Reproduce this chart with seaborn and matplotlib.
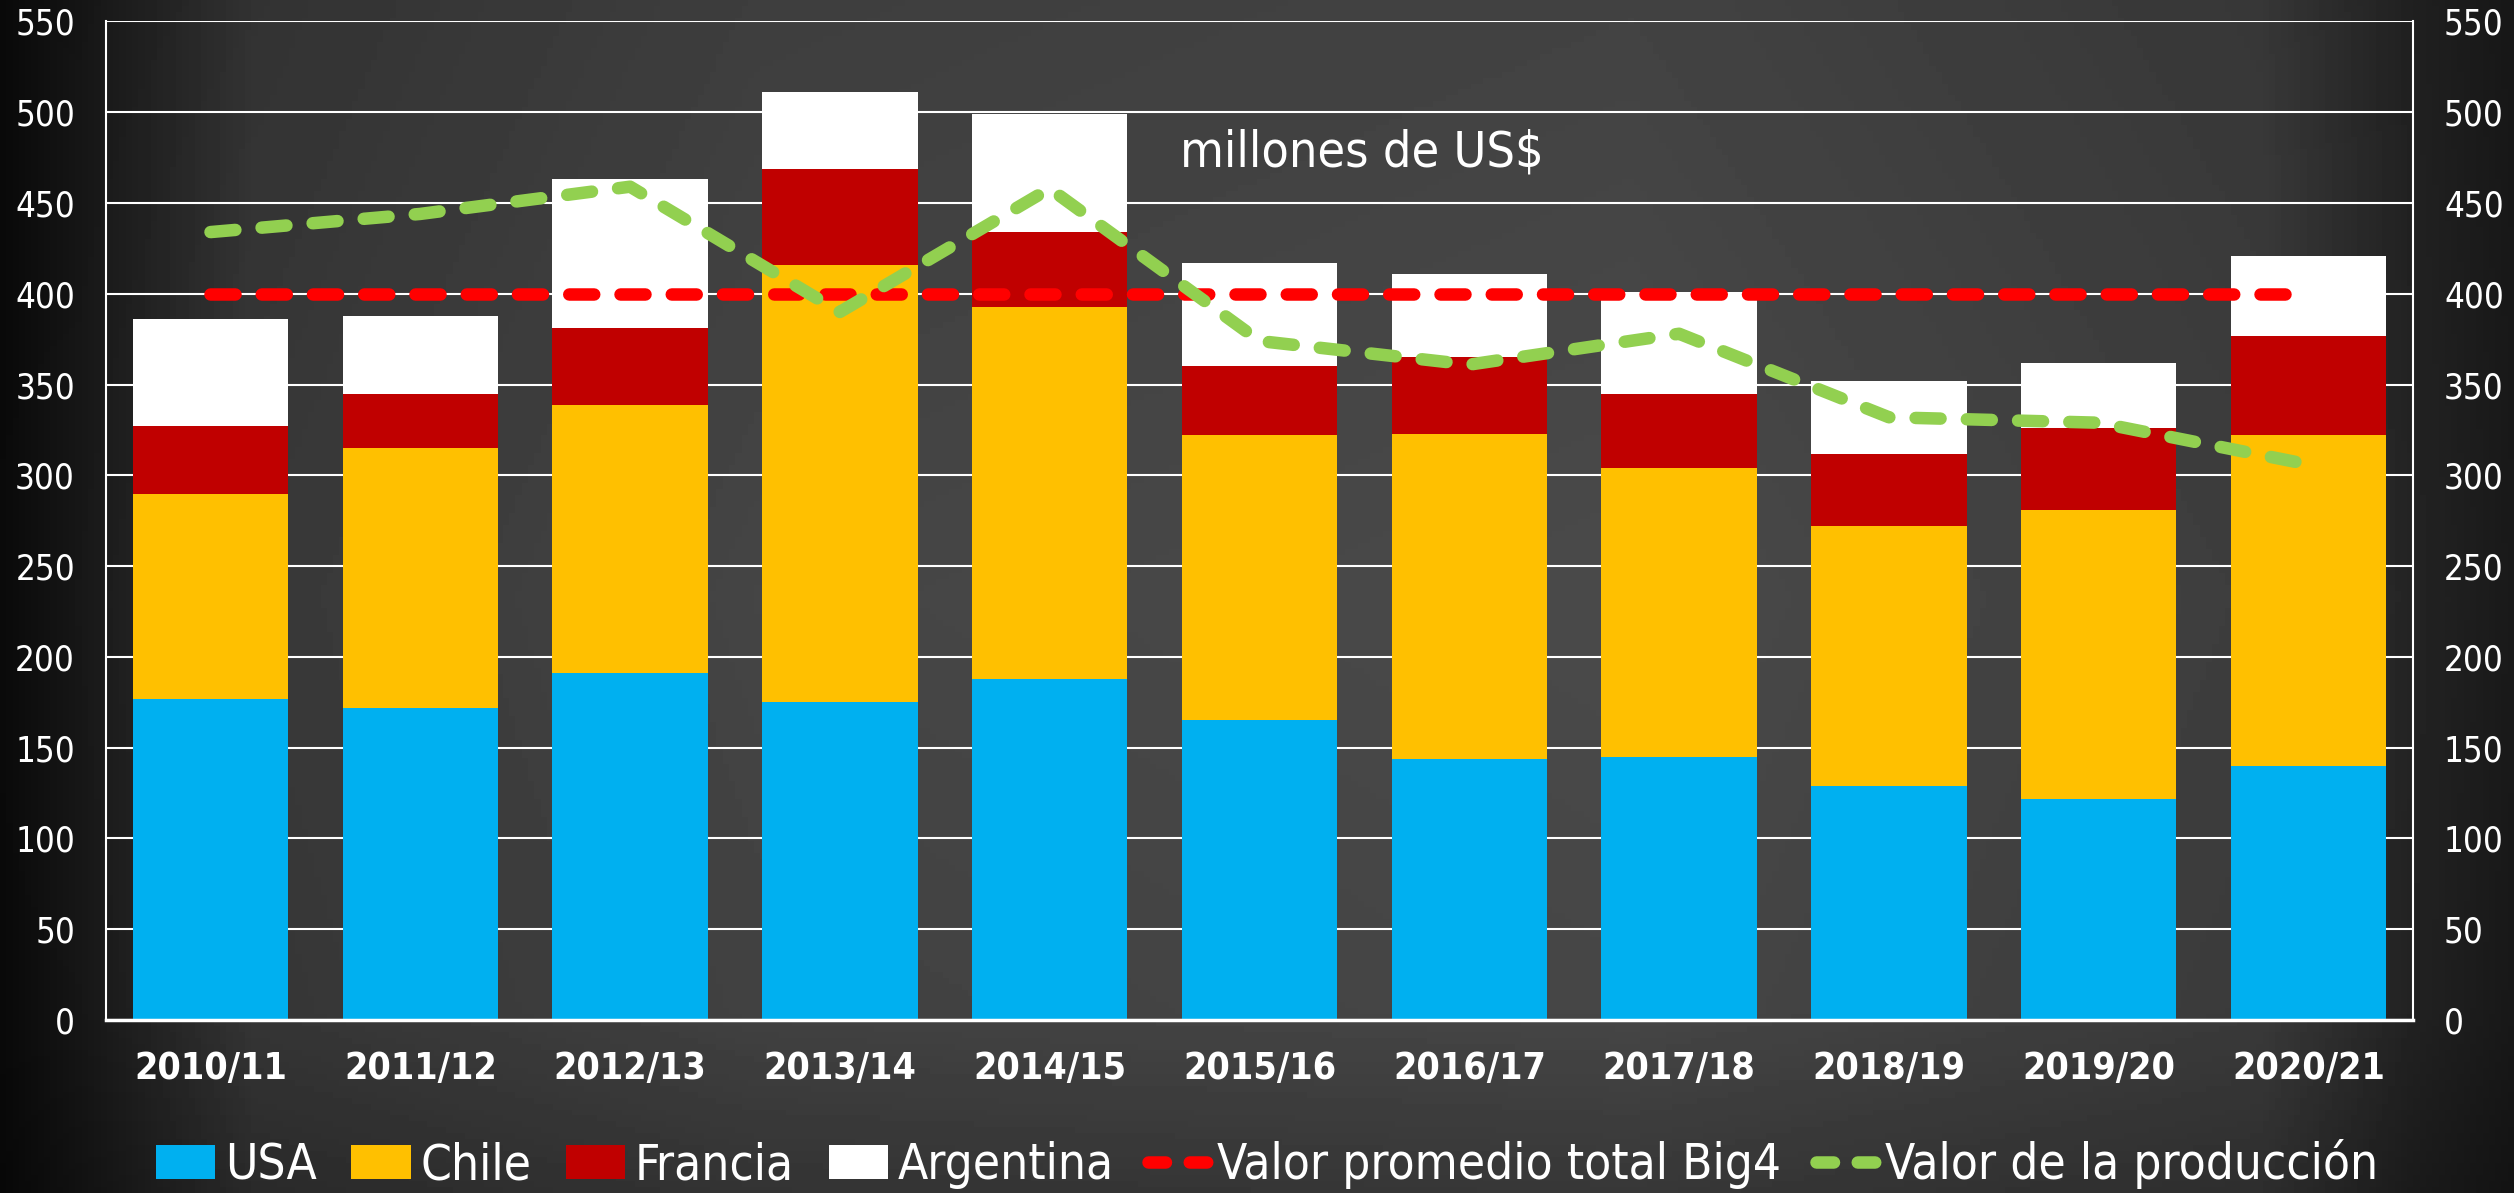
import numpy as np
import pandas as pd
import matplotlib
matplotlib.use("Agg")
import matplotlib.pyplot as plt
from matplotlib.patches import Patch
from matplotlib.lines import Line2D
import seaborn as sns


# Data (millones de US$)

seasons = ["2010/11", "2011/12", "2012/13", "2013/14", "2014/15", "2015/16",
           "2016/17", "2017/18", "2018/19", "2019/20", "2020/21"]
usa = [177, 172, 191, 175, 188, 165, 144, 145, 129, 122, 140]
chile = [113, 143, 148, 241, 205, 157, 179, 159, 143, 159, 182]
francia = [37, 30, 42, 53, 41, 38, 42, 41, 40, 45, 55]
argentina = [59, 43, 82, 42, 65, 57, 46, 56, 40, 36, 44]
avg_big4 = [400, 400, 400, 400, 400, 400, 400, 400, 400, 400, 400]
valor_produccion = [434, 444, 459, 390, 458, 374, 361, 378, 332, 329, 306]

COLORS = {"USA": "#00B0F0", "Chile": "#FFC000", "Francia": "#C00000",
          "Argentina": "#FFFFFF"}
RED = "#FF0000"
GREEN = "#92D050"

sns.set_theme(style="white")
plt.rcParams["font.family"] = ["DejaVu Sans"]
plt.rcParams["font.stretch"] = "condensed"
plt.rcParams["text.color"] = "white"

df = pd.DataFrame({"season": seasons, "USA": usa, "Chile": chile,
                   "Francia": francia, "Argentina": argentina})
# cumulative tops, drawn tallest first so the stacks overlay
df["top_USA"] = df["USA"]
df["top_Chile"] = df["top_USA"] + df["Chile"]
df["top_Francia"] = df["top_Chile"] + df["Francia"]
df["top_Argentina"] = df["top_Francia"] + df["Argentina"]

fig = plt.figure(figsize=(25.14, 11.93), dpi=100)

# chalkboard-ish background gradient
bg = fig.add_axes([0, 0, 1, 1], zorder=-10)
xs = np.linspace(0, 1, 400)
ys = np.linspace(0, 1, 200)
xprof = np.interp(xs, [0, 0.03, 0.10, 0.30, 0.65, 0.90, 0.96, 1.0],
                  [0.04, 0.09, 0.22, 0.27, 0.29, 0.24, 0.14, 0.10])
yprof = np.interp(ys, [0, 0.15, 0.5, 1.0], [0.75, 0.95, 1.0, 0.9])
img = yprof[:, None] * xprof[None, :]
bg.imshow(img, cmap="gray", vmin=0, vmax=1, aspect="auto", origin="lower",
          extent=[0, 1, 0, 1])
bg.axis("off")

ax = fig.add_axes([0.042, 0.145, 0.918, 0.837])
ax.set_facecolor("none")

for name in ["Argentina", "Francia", "Chile", "USA"]:
    sns.barplot(data=df, x="season", y=f"top_{name}", color=COLORS[name],
                width=0.74, linewidth=0, saturation=1, ax=ax, zorder=2)

pos = np.arange(len(seasons))
sns.lineplot(x=pos, y=avg_big4, color=RED, lw=9, ax=ax, zorder=3)
sns.lineplot(x=pos, y=valor_produccion, color=GREEN, lw=9, ax=ax, zorder=4)
for ln in ax.lines[-2:]:
    ln.set_dashes((2.0, 2.1))
    ln.set_dash_capstyle("round")
    ln.set_solid_capstyle("round")

ax.set_xlim(-0.5, len(seasons) - 0.5)
ax.set_ylim(0, 550)
ax.set_yticks(np.arange(0, 551, 50))
ax.set_xlabel("")
ax.set_ylabel("")
ax.grid(axis="y", color="white", lw=1.5, zorder=0)
ax.set_axisbelow(True)
for side in ["left", "right", "bottom"]:
    ax.spines[side].set_color("white")
    ax.spines[side].set_linewidth(1.5)
ax.spines["top"].set_visible(False)
ax.spines["bottom"].set_linewidth(2.5)

ax.tick_params(axis="y", length=0, pad=22, labelsize=25, colors="white",
               labelleft=True, labelright=True)
ax.tick_params(axis="x", length=0, pad=22, labelsize=27, colors="white")
for lbl in ax.get_xticklabels():
    lbl.set_fontweight("bold")

ax.text(4.62, 478, "millones de US$", fontsize=36, color="white",
        ha="left", va="center", zorder=5)

handles = [Patch(facecolor=COLORS[k], edgecolor="none", label=k)
           for k in ["USA", "Chile", "Francia", "Argentina"]]
for col, lab in [(RED, "Valor promedio total Big4"), (GREEN, "Valor de la producción")]:
    h = Line2D([0], [0], color=col, lw=9, label=lab)
    h.set_dashes((1.4, 1.9))
    h.set_dash_capstyle("round")
    handles.append(h)

fig.legend(handles=handles, loc="lower center", bbox_to_anchor=(0.504, -0.034),
           ncol=6, frameon=False, fontsize=35.5, handlelength=1.2,
           handleheight=0.7, handletextpad=0.2, columnspacing=0.7,
           labelcolor="white")

fig.savefig("out.png", dpi=100)
